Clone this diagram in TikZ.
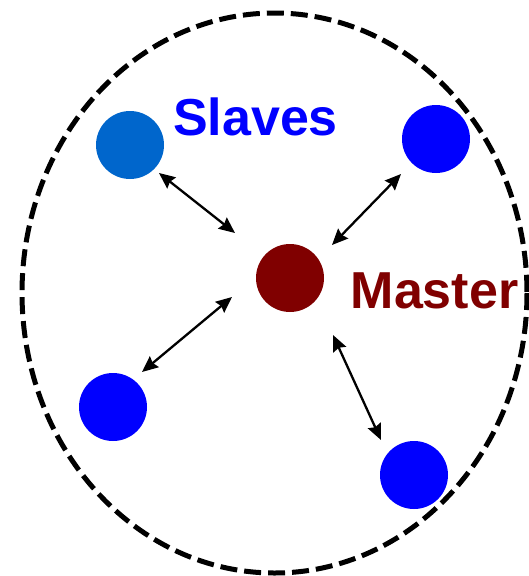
\documentclass[tikz,border=0pt]{standalone}
\usepackage{fontspec}
\setmainfont{Liberation Sans}
\usetikzlibrary{arrows.meta,calc}
\definecolor{slaveblue}{RGB}{0,0,255}
\definecolor{slavelight}{RGB}{0,102,204}
\definecolor{masterred}{RGB}{128,0,0}
\tikzset{
  dot/.style={circle,minimum size=68pt,inner sep=0pt,draw=none},
  link/.style={line width=2.3pt,{Stealth[length=16pt,width=14pt,inset=2pt]}-{Stealth[length=16pt,width=14pt,inset=2pt]}},
  bigtext/.style={font=\fontsize{52}{52}\selectfont\bfseries,inner sep=0pt,anchor=base},
  boundary/.style={line width=5pt,dash pattern=on 17pt off 7pt}
}
\begin{document}
\begin{tikzpicture}[x=1pt,y=-1pt]
\useasboundingbox (0,0) rectangle (529,576);
\draw[boundary] (274.5,293) ellipse [x radius=252.5, y radius=280];
\node[dot,fill=slavelight] (tl) at (130,145) {};
\node[dot,fill=slaveblue] (tr) at (436,139) {};
\node[dot,fill=slaveblue] (bl) at (113,407) {};
\node[dot,fill=slaveblue] (br) at (414,475) {};
\node[dot,fill=masterred] (m) at (290,278) {};
\node[bigtext,text=slaveblue] (slv) at (255.5,135) {Slaves};
\node[bigtext,text=masterred] (mst) at (434.5,308) {Master};
\draw[link] ($(tl)+(29,28)$) -- ($(m)+(-55,-45)$);
\draw[link] ($(tr)+(-35,35)$) -- ($(m)+(42,-33)$);
\draw[link] ($(m)+(-58,19)$) -- ($(bl)+(29,-35)$);
\draw[link] ($(m)+(43,57)$) -- ($(br)+(-33,-35)$);
\end{tikzpicture}
\end{document}
